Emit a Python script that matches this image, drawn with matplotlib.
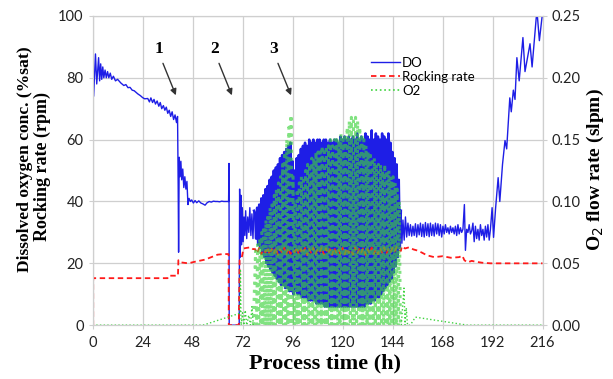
import numpy as np
import matplotlib
matplotlib.use('Agg')
import matplotlib.pyplot as plt
from matplotlib.lines import Line2D

# ---- data ----
# dissolved oxygen, before the oscillating phase (time h, %sat)
do_t_early = [0, 0.5, 1.4, 2.0, 2.9, 3.4, 3.9, 4.4, 4.9, 5.4,
              6.0, 6.6, 7.2, 7.8, 8.5, 9.2, 10, 11, 12, 13.6,
              15, 16, 17, 18, 19, 20, 21.7, 23, 24, 25,
              26.5, 27.3, 28, 28.8, 29.5, 30.2, 31, 31.8, 32.5, 33.2,
              34, 34.7, 35.4, 36.1, 36.8, 37.5, 38.2, 38.9, 39.6, 40.3,
              40.8, 41.1, 41.3, 41.6, 42.0, 42.4, 42.8, 43.3, 43.8, 44.3,
              44.8, 45.3, 45.8, 46.3, 47, 47.6, 48.4, 49.2, 50, 51,
              52, 53, 54, 55, 56, 57, 58, 59, 60, 61,
              62, 63, 64, 65.3, 65.5, 65.6, 70.4, 70.6, 70.9, 71.2,
              71.5, 71.9, 72.3, 72.7, 73.1, 73.5, 74, 74.5, 75, 75.5,
              76, 76.5, 77, 77.5]
do_v_early = [90.3, 74, 87.7, 78, 86.5, 79, 84.5, 79.5, 83.5, 80,
              82.5, 80, 82, 80, 81.5, 79.5, 80.5, 79, 79.5, 78.3,
              77.5, 77.8, 76.8, 76.9, 76, 75.8, 74.8, 74.2, 73.6, 73.2,
              73.3, 72.2, 73.5, 72, 73, 71.5, 72.5, 70.8, 72, 70,
              71, 69.5, 70.5, 68.5, 69.5, 67.5, 69, 66.5, 68, 65.5,
              67.5, 45, 23.6, 54.3, 48, 53, 47, 50.5, 44.5, 48,
              44, 46.5, 39, 41, 40, 40.5, 39.5, 40.3, 39.6, 40.2,
              39.5, 39.2, 38.8, 39.6, 40, 39.8, 40.1, 40, 40, 39.9,
              40.1, 40, 40, 40, 52.3, 0, 0, 44, 22, 42,
              26, 38, 27, 35, 29, 37, 28, 35, 30, 38,
              29, 36, 28, 37]

# oscillating phase, one cycle per hour from 78 h to 147 h
cycle_start = np.arange(78, 148)
do_peak = [36, 38, 39, 41, 42, 44, 45, 47, 48, 50,
           51, 52, 54, 55, 56, 57, 58, 59, 53, 50,
           54, 55, 57, 58, 59, 58, 60, 59, 60, 59,
           60, 60, 59, 60, 60, 59, 60, 59, 60, 60,
           59, 61, 60, 61, 60, 61, 60, 61, 60, 62,
           60, 61, 60, 62, 61, 60, 63, 60, 62, 61,
           60, 62, 61, 60, 62, 59, 56, 54, 52, 47]
do_trough = [28, 26, 25, 23, 22, 20, 19, 18, 17, 16,
             15, 14, 13, 13, 12, 12, 11, 11, 10, 11,
             10, 10, 9, 9, 9, 8, 8, 8, 8, 7,
             7, 7, 7, 6, 6, 6, 6, 6, 6, 6,
             6, 6, 6, 6, 6, 6, 6, 6, 6, 6,
             6, 6, 6, 7, 7, 7, 8, 8, 9, 9,
             10, 11, 12, 13, 14, 15, 17, 19, 22, 25]
o2_peak = [0.06, 0.065, 0.07, 0.075, 0.08, 0.085, 0.09, 0.095, 0.10, 0.105,
           0.11, 0.115, 0.12, 0.13, 0.14, 0.15, 0.16, 0.17, 0.12, 0.10,
           0.11, 0.115, 0.12, 0.12, 0.125, 0.13, 0.13, 0.135, 0.135, 0.14,
           0.14, 0.14, 0.145, 0.14, 0.145, 0.145, 0.15, 0.145, 0.15, 0.15,
           0.15, 0.155, 0.15, 0.155, 0.16, 0.165, 0.168, 0.165, 0.168, 0.165,
           0.16, 0.155, 0.15, 0.145, 0.14, 0.14, 0.135, 0.135, 0.13, 0.13,
           0.13, 0.125, 0.13, 0.125, 0.125, 0.12, 0.12, 0.115, 0.11, 0.10]
o2_trough = [0.0] * 70
rock_osc = [24.6, 23.2, 25.0, 22.9, 24.4, 23.5, 25.2, 22.8, 24.7, 23.1,
            25.0, 22.7, 24.5, 23.4, 25.1, 22.9, 24.8, 23.0, 24.3, 23.6,
            25.2, 22.8, 24.6, 23.3, 25.0, 22.6, 24.7, 23.2, 25.1, 23.0,
            24.4, 23.5, 25.2, 22.8, 24.9, 23.1, 24.6, 22.7, 25.0, 23.4,
            24.5, 23.0, 25.1, 22.9, 24.8, 23.3, 24.4, 22.8, 25.2, 23.1,
            24.7, 23.5, 25.0, 22.7, 24.6, 23.2, 25.1, 23.0, 24.5, 22.9,
            24.9, 23.4, 25.2, 23.0, 24.6, 23.6, 25.0, 23.8, 25.3, 24.5]

# dissolved oxygen after the oscillating phase
do_t_late = [148, 148.5, 149, 149.6, 150.2, 150.8, 151.4, 152, 152.6, 153.2,
             153.8, 154.4, 155, 155.6, 156.2, 156.8, 157.4, 158, 158.6, 159.2,
             159.8, 160.4, 161, 161.6, 162.2, 162.8, 163.4, 164, 164.6, 165.2,
             165.8, 166.4, 167, 167.6, 168.2, 168.8, 169.4, 170, 170.6, 171.2,
             171.8, 172.4, 173, 173.6, 174.2, 174.8, 175.4, 176, 176.6, 177.2,
             177.8, 178.5, 179, 179.6, 180.2, 180.8, 181.4, 182, 182.6, 183.2,
             183.8, 184.4, 185, 185.6, 186.2, 186.8, 187.4, 188, 188.6, 189.2,
             189.8, 190.4, 191, 191.8, 192.5, 193.5, 194.7, 195.5, 196.8, 198,
             198.8, 200.3, 201, 202, 202.8, 203.7, 204.8, 206.6, 207.6, 210,
             211, 213, 213.6, 214.5, 216]
do_v_late = [37, 26.5, 34, 27.5, 35, 28.5, 33, 29, 32.5, 28.8,
             32, 29, 32.8, 28.5, 32.5, 29.2, 33, 28.7, 32.6, 28.5,
             33.2, 29, 32.8, 28.6, 33, 29, 32.5, 28.8, 33, 29.5,
             32.8, 29, 32.5, 28.5, 32, 29.5, 32.5, 30, 31.5, 29.5,
             32, 30, 31.5, 29.5, 32, 29, 32.5, 29.5, 31.5, 30,
             31, 39, 24.2, 31, 30, 32.5, 29.5, 30.5, 33, 27,
             32, 28, 31, 27.5, 32.5, 29, 31, 27.5, 32, 28.5,
             32.5, 27.5, 31, 38, 28.4, 38, 47.7, 40, 52, 59.7,
             57, 73.5, 69, 76, 73, 86.5, 79, 93, 82, 91,
             83.5, 99.5, 99.5, 92, 101]

# rocking rate (rpm)
rock_t_early = [0, 0.3, 0.3, 36, 36.5, 41, 41.2, 42.5, 46, 49,
                54, 57, 60, 62.7, 65.3, 65.4, 70.2, 70.6, 71.5, 72.5,
                74, 76, 77]
rock_v_early = [0, 0, 15.2, 15.2, 16, 16, 21, 20.3, 20, 20.5,
                21.2, 22, 22.8, 23, 23, 0, 0, 21, 21.5, 24.8,
                25, 25.2, 24.6]
rock_t_late = [148, 148.5, 150, 152, 154, 155.6, 158, 160.5, 164, 168,
               172, 176, 177.5, 178.5, 180, 182, 184, 187, 191, 216]
rock_v_late = [24, 25.5, 24.8, 25.2, 24.5, 24.2, 23.5, 22.6, 22, 22.3,
               21.8, 22, 22.5, 21, 20.3, 20.8, 20.5, 20.2, 20, 20]

# O2 flow (slpm)
o2_t_early = [0, 53, 70.8, 71.0, 71.3, 72, 72.6, 73.3, 74, 75,
              75.8, 76.5, 77.2]
o2_v_early = [0, 0, 0.0097, 0.044, 0.0, 0.01, 0.0, 0.012, 0.0, 0.008,
              0.0, 0.015, 0.0]
o2_t_late = [148.2, 149.5, 150, 150.6, 151.2, 152.5, 155, 180, 216]
o2_v_late = [0, 0.03, 0, 0.014, 0, 0, 0.0065, 0.0, 0.0]

# ---- assemble the series ----
osc_t = np.column_stack([cycle_start, cycle_start + 0.5]).ravel()
osc_do = np.column_stack([do_peak, do_trough]).ravel()
osc_o2_t = np.column_stack([cycle_start + 0.25, cycle_start + 0.75]).ravel()
osc_o2 = np.column_stack([o2_peak, o2_trough]).ravel()

rock_t = np.concatenate([rock_t_early, cycle_start, rock_t_late])
rock_v = np.concatenate([rock_v_early, rock_osc, rock_v_late])

# ---- plot ----
tick_font = 'Lato'
label_font = 'Liberation Serif'
grid_col = '#CFCFCF'
blue = '#1E1EE6'
red = '#FF1A1A'
green = '#3ED33E'

fig = plt.figure(figsize=(6.13, 3.79), dpi=100)
ax = fig.add_axes([0.151, 0.142, 0.734, 0.816])
ax2 = ax.twinx()

# DO: the densely oscillating middle part is drawn a little heavier
ax.plot(do_t_early, do_v_early, color=blue, lw=1.0, zorder=3)
ax.plot(np.concatenate([[do_t_early[-1]], osc_t, [do_t_late[0]]]),
        np.concatenate([[do_v_early[-1]], osc_do, [do_v_late[0]]]),
        color=blue, lw=1.8, zorder=3)
ax.plot(do_t_late, do_v_late, color=blue, lw=1.0, zorder=3)
ax.plot(rock_t, rock_v, color=red, lw=1.3, dashes=(3, 2), zorder=4)

ax2.plot(o2_t_early, o2_v_early, color=green, lw=1.0, ls=':')
ax2.plot(np.concatenate([[o2_t_early[-1]], osc_o2_t, [o2_t_late[0]]]),
         np.concatenate([[o2_v_early[-1]], osc_o2, [o2_v_late[0]]]),
         color=green, lw=2.2, ls=':', alpha=0.65)
ax2.plot(o2_t_late, o2_v_late, color=green, lw=1.0, ls=':')

ax.set_xlim(0, 216)
ax.set_ylim(0, 100)
ax2.set_ylim(0, 0.25)
ax.set_xticks(range(0, 217, 24))
ax.set_yticks(range(0, 101, 20))
ax2.set_yticks([0, 0.05, 0.10, 0.15, 0.20, 0.25])
ax2.set_yticklabels(['0.00', '0.05', '0.10', '0.15', '0.20', '0.25'])

ax.grid(True, color=grid_col, lw=0.9)
ax.set_axisbelow(True)
for a in (ax, ax2):
    for s in a.spines.values():
        s.set_color(grid_col)
    a.tick_params(length=3, color=grid_col, labelsize=10.5, labelcolor='#222222')
    for lab in a.get_xticklabels() + a.get_yticklabels():
        lab.set_fontfamily(tick_font)
ax.tick_params(axis='x', pad=5)

fig.text(0.041, 0.58, 'Dissolved oxygen conc. (%sat)', rotation=90,
         ha='center', va='center', fontsize=12.6, fontweight='bold', family=label_font)
fig.text(0.069, 0.562, 'Rocking rate (rpm)', rotation=90,
         ha='center', va='center', fontsize=13, fontweight='bold', family=label_font)
fig.text(0.971, 0.553, 'O$_2$ flow rate (slpm)', rotation=90,
         ha='center', va='center', fontsize=14, fontweight='bold', family=label_font)
fig.text(0.53, 0.042, 'Process time (h)', ha='center', va='center',
         fontsize=16, fontweight='bold', family=label_font)

# numbered arrows
for num, tx, hx in [('1', 33.3, 40.5), ('2', 60.2, 67.4), ('3', 88.5, 95.8)]:
    ax.annotate('', xy=(hx, 73.5), xytext=(tx, 85.5),
                arrowprops=dict(arrowstyle='-|>', color='#333333', lw=1.0,
                                mutation_scale=9), zorder=6)
    ax.text(tx - 1.5, 89.2, num, ha='center', va='center', fontsize=12.5,
            fontweight='bold', family=label_font)

handles = [Line2D([], [], color=blue, lw=1.0),
           Line2D([], [], color=red, lw=1.3, dashes=(3, 2)),
           Line2D([], [], color=green, lw=1.2, ls=':')]
leg = ax2.legend(handles, ['DO', 'Rocking rate', 'O2'], loc='upper left',
                 bbox_to_anchor=(0.607, 0.885), frameon=False, handlelength=2.2,
                 handletextpad=0.15, labelspacing=0.15, borderaxespad=0,
                 prop={'family': tick_font, 'size': 9.5})

fig.savefig('out.png', dpi=100)
